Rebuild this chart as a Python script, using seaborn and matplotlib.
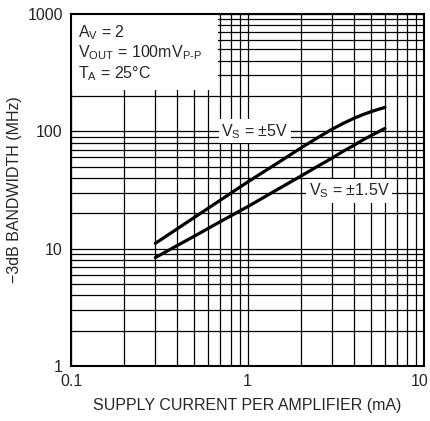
import pandas as pd
import matplotlib.pyplot as plt
import matplotlib.patches as mpatches
import matplotlib.transforms as mtransforms
from matplotlib.ticker import FixedLocator, FixedFormatter, NullFormatter
import seaborn as sns

# supply current per amplifier (mA)
current = [0.3, 0.4, 0.5, 0.7, 1, 1.5, 2, 2.5, 3, 3.5, 4, 4.5, 5, 5.5, 6]
# -3dB bandwidth (MHz)
bw_5v = [11.1, 14.8, 18.5, 25.9, 37, 54.5, 72, 88.5, 104, 117.5, 129, 139, 147, 154, 160]
bw_1v5 = [8.4, 10.66, 12.8, 17.0, 22.8, 32.4, 41.5, 50.5, 59, 68, 76, 84.5, 92, 99, 106]

data = pd.DataFrame({
    'current': current * 2,
    'bw': bw_5v + bw_1v5,
    'supply': ['5V'] * len(current) + ['1.5V'] * len(current),
})

sns.set_style('white')
plt.rcParams['font.family'] = ['Liberation Sans Narrow', 'Liberation Sans', 'DejaVu Sans']
plt.rcParams['mathtext.fontset'] = 'custom'
plt.rcParams['mathtext.rm'] = 'Liberation Sans'

fig = plt.figure(figsize=(4.31, 4.21), dpi=100)
ax = fig.add_axes([0.165, 0.1306, 0.819, 0.8361])
ax.set_axisbelow(True)

sns.lineplot(data=data, x='current', y='bw', hue='supply', palette=['black', 'black'],
             linewidth=2.3, legend=False, ax=ax, zorder=3)
for ln in ax.lines:
    ln.set_solid_joinstyle('round')

ax.set_xscale('log')
ax.set_yscale('log')
ax.set_xlim(0.1, 10)
ax.set_ylim(1, 1000)

ax.xaxis.set_major_locator(FixedLocator([0.1, 1, 10]))
ax.xaxis.set_major_formatter(FixedFormatter(['0.1', '1', '10']))
ax.yaxis.set_major_locator(FixedLocator([1, 10, 100, 1000]))
ax.yaxis.set_major_formatter(FixedFormatter(['1', '10', '100', '1000']))
ax.xaxis.set_minor_formatter(NullFormatter())
ax.yaxis.set_minor_formatter(NullFormatter())

ax.grid(True, which='both', color='black', linewidth=0.9)
ax.tick_params(which='both', length=0, labelsize=11.5, pad=6)
for s in ax.spines.values():
    s.set_color('black')
    s.set_linewidth(1.5)

# nudge the last x tick label so it stays inside the figure
last = ax.get_xticklabels()[-1]
last.set_transform(last.get_transform() + mtransforms.ScaledTranslation(-4 / 100, 0, fig.dpi_scale_trans))

ax.set_xlabel('SUPPLY CURRENT PER AMPLIFIER (mA)', fontsize=11.5, labelpad=6)
ax.set_ylabel('\u22123dB BANDWIDTH (MHz)', fontsize=11.5, labelpad=4)

# white block behind the conditions text
ax.add_patch(mpatches.Rectangle((0, 0.785), 0.415, 0.215, transform=ax.transAxes,
                                facecolor='white', edgecolor='none', zorder=2))
ax.text(0.02, 0.975, r'A$_\mathregular{V}$ = 2' + '\n' +
        r'V$_\mathregular{OUT}$ = 100mV$_\mathregular{P\text{-}P}$' + '\n' +
        r'T$_\mathregular{A}$ = 25°C',
        transform=ax.transAxes, ha='left', va='top', fontsize=11.5,
        linespacing=1.15, zorder=4)

ax.text(1.1, 100, r'V$_\mathregular{S}$ = ±5V', ha='center', va='center', fontsize=11.5,
        zorder=4, bbox=dict(facecolor='white', edgecolor='none', pad=2))
ax.text(3.75, 31, r'V$_\mathregular{S}$ = ±1.5V', ha='center', va='center', fontsize=11.5,
        zorder=4, bbox=dict(facecolor='white', edgecolor='none', pad=2))

plt.savefig('out.png', dpi=100)
